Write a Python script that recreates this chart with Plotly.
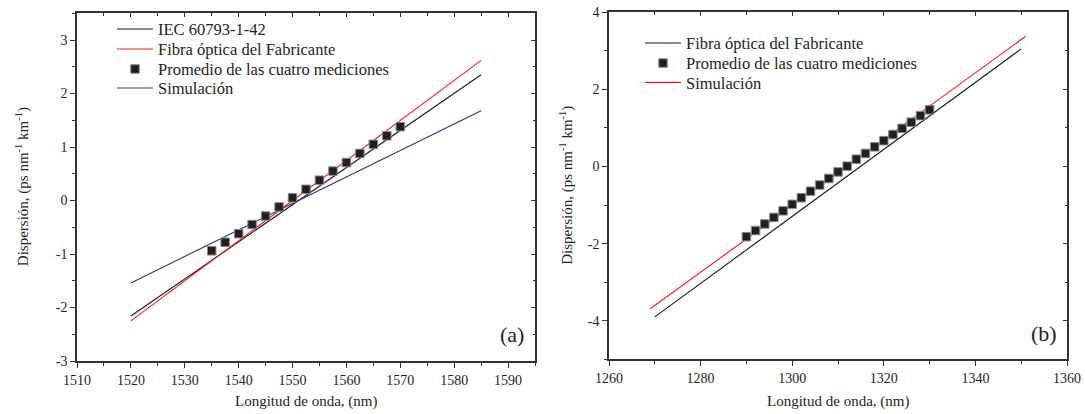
import plotly.graph_objects as go

W, H = 1085, 414
FONT = "Liberation Serif, Times New Roman, Tinos, DejaVu Serif"
TXT = "#231f20"

# ---------------- data: panel (a) ----------------
a_iec_x = [1520, 1585]
a_iec_y = [-2.16, 2.35]
a_fab_x = [1520, 1585]
a_fab_y = [-2.25, 2.62]
a_sim_x = [1520, 1585]
a_sim_y = [-1.54, 1.68]
a_meas_x = [1535, 1537.5, 1540, 1542.5, 1545, 1547.5, 1550, 1552.5, 1555,
            1557.5, 1560, 1562.5, 1565, 1567.5, 1570]
a_meas_y = [-0.94, -0.78, -0.62, -0.45, -0.29, -0.12, 0.05, 0.21, 0.38,
            0.55, 0.71, 0.88, 1.05, 1.21, 1.38]
a_xticks = [1510, 1520, 1530, 1540, 1550, 1560, 1570, 1580, 1590]
a_yticks = [-3, -2, -1, 0, 1, 2, 3]

# ---------------- data: panel (b) ----------------
b_fab_x = [1270, 1350]
b_fab_y = [-3.90, 3.05]
b_sim_x = [1269, 1351]
b_sim_y = [-3.69, 3.38]
b_meas_x = [1290, 1292, 1294, 1296, 1298, 1300, 1302, 1304, 1306, 1308, 1310,
            1312, 1314, 1316, 1318, 1320, 1322, 1324, 1326, 1328, 1330]
b_meas_y = [-1.82, -1.66, -1.49, -1.32, -1.15, -0.98, -0.81, -0.64, -0.48,
            -0.31, -0.14, 0.01, 0.19, 0.34, 0.51, 0.67, 0.83, 0.99, 1.15,
            1.32, 1.47]
b_xticks = [1260, 1280, 1300, 1320, 1340, 1360]
b_yticks = [-4, -2, 0, 2, 4]

names_a = ["IEC 60793-1-42", "Fibra óptica del Fabricante",
           "Promedio de las cuatro mediciones", "Simulación"]
names_b = ["Fibra óptica del Fabricante", "Promedio de las cuatro mediciones",
           "Simulación"]

BLACK = "#1a1a1a"
RED = "#ee1c25"
BLUE = "#2e3192"
MK = dict(symbol="square", size=8.5, color="#231f20", line=dict(color="#8a8a8a", width=1))


def lab(v):
    return str(v)


fig = go.Figure()

fig.add_trace(go.Scatter(x=a_iec_x, y=a_iec_y, mode="lines", name=names_a[0],
                         line=dict(color=BLACK, width=1.1), xaxis="x", yaxis="y", legend="legend"))
fig.add_trace(go.Scatter(x=a_fab_x, y=a_fab_y, mode="lines", name=names_a[1],
                         line=dict(color=RED, width=1.1), xaxis="x", yaxis="y", legend="legend2"))
fig.add_trace(go.Scatter(x=a_sim_x, y=a_sim_y, mode="lines", name=names_a[3],
                         line=dict(color=BLUE, width=1.1), xaxis="x", yaxis="y", legend="legend4"))
fig.add_trace(go.Scatter(x=a_meas_x, y=a_meas_y, mode="markers", name=names_a[2],
                         marker=MK, xaxis="x", yaxis="y", legend="legend3"))
fig.add_trace(go.Scatter(x=b_fab_x, y=b_fab_y, mode="lines", name=names_b[0],
                         line=dict(color=BLACK, width=1.1), xaxis="x2", yaxis="y2", legend="legend5"))
fig.add_trace(go.Scatter(x=b_sim_x, y=b_sim_y, mode="lines", name=names_b[2],
                         line=dict(color=RED, width=1.1), xaxis="x2", yaxis="y2", legend="legend7"))
fig.add_trace(go.Scatter(x=b_meas_x, y=b_meas_y, mode="markers", name=names_b[1],
                         marker=MK, xaxis="x2", yaxis="y2", legend="legend6"))
fig.add_trace(go.Scatter(x=[], y=[], xaxis="x3", yaxis="y3", showlegend=False, hoverinfo="skip"))
fig.add_trace(go.Scatter(x=[], y=[], xaxis="x4", yaxis="y4", showlegend=False, hoverinfo="skip"))

dxa = [77 / W, 535 / W]
dya = [1 - 361 / H, 1 - 13.3 / H]
dxb = [609 / W, 1067 / W]
dyb = [1 - 359.3 / H, 1 - 12.3 / H]

AX = dict(showgrid=False, zeroline=False, showline=True, linecolor="#333333",
          linewidth=1.5, tickcolor="#333333", tickwidth=1.2,
          tickfont=dict(family=FONT, size=14, color=TXT), automargin=False)
OUT = dict(ticks="outside", ticklen=5)
INN = dict(ticks="inside", ticklen=4, showticklabels=False)

lay = dict(
    width=W, height=H, margin=dict(l=0, r=0, t=0, b=0),
    paper_bgcolor="white", plot_bgcolor="white",
    font=dict(family=FONT, color=TXT),
    xaxis=dict(domain=dxa, anchor="y", range=[1510, 1595], tickvals=a_xticks,
               ticktext=[lab(v) for v in a_xticks],
               minor=dict(dtick=5, tick0=1510, ticks="outside", ticklen=3, tickcolor="#333333"),
               **OUT, **AX),
    yaxis=dict(domain=dya, anchor="x", range=[-3, 3.5], tickvals=a_yticks,
               ticktext=[lab(v) for v in a_yticks],
               minor=dict(dtick=0.5, tick0=0, ticks="outside", ticklen=3, tickcolor="#333333"),
               **OUT, **AX),
    xaxis3=dict(overlaying="x", anchor="y3", side="top", range=[1510, 1595], tickvals=a_xticks,
                minor=dict(dtick=5, tick0=1510, ticks="inside", ticklen=2.5, tickcolor="#333333"),
                **INN, **AX),
    yaxis3=dict(overlaying="y", anchor="x3", side="right", range=[-3, 3.5], tickvals=a_yticks,
                minor=dict(dtick=0.5, tick0=0, ticks="inside", ticklen=2.5, tickcolor="#333333"),
                **INN, **AX),
    xaxis2=dict(domain=dxb, anchor="y2", range=[1260, 1360], tickvals=b_xticks,
                ticktext=[lab(v) for v in b_xticks],
                minor=dict(dtick=10, tick0=1260, ticks="outside", ticklen=3, tickcolor="#333333"),
                **OUT, **AX),
    yaxis2=dict(domain=dyb, anchor="x2", range=[-5, 4], tickvals=b_yticks,
                ticktext=[lab(v) for v in b_yticks],
                minor=dict(dtick=1, tick0=0, ticks="outside", ticklen=3, tickcolor="#333333"),
                **OUT, **AX),
    xaxis4=dict(overlaying="x2", anchor="y4", side="top", range=[1260, 1360], tickvals=b_xticks,
                minor=dict(dtick=10, tick0=1260, ticks="inside", ticklen=2.5, tickcolor="#333333"),
                **INN, **AX),
    yaxis4=dict(overlaying="y2", anchor="x4", side="right", range=[-5, 4], tickvals=b_yticks,
                minor=dict(dtick=1, tick0=0, ticks="inside", ticklen=2.5, tickcolor="#333333"),
                **INN, **AX),
    showlegend=True,
)

LEGF = dict(family=FONT, size=16.5, color=TXT)


def leg(xpx, ypx):
    return dict(x=xpx / W, y=1 - ypx / H, xanchor="left", yanchor="middle",
                bgcolor="rgba(0,0,0,0)", borderwidth=0, font=LEGF,
                itemwidth=36, tracegroupgap=0)


LX_A, LX_B = 112, 640
lay["legend"] = leg(LX_A, 29.3)
lay["legend2"] = leg(LX_A, 49.3)
lay["legend3"] = leg(LX_A, 69.3)
lay["legend4"] = leg(LX_A, 88.3)
lay["legend5"] = leg(LX_B, 43.3)
lay["legend6"] = leg(LX_B, 63.3)
lay["legend7"] = leg(LX_B, 82.7)

YT = "Dispersión, (ps nm<sup>-1</sup> km<sup>-1</sup>)"
XT = "Longitud de onda, (nm)"
TF = dict(family=FONT, size=15, color=TXT)
ann = [
    dict(text=XT, x=(dxa[0] + dxa[1]) / 2, y=1 - 401 / H, xref="paper", yref="paper",
         showarrow=False, font=TF, xanchor="center", yanchor="middle"),
    dict(text=XT, x=(dxb[0] + dxb[1]) / 2, y=1 - 401 / H, xref="paper", yref="paper",
         showarrow=False, font=TF, xanchor="center", yanchor="middle"),
    dict(text=YT, x=22 / W, y=(dya[0] + dya[1]) / 2, xref="paper", yref="paper",
         showarrow=False, font=TF, textangle=-90, xanchor="center", yanchor="middle"),
    dict(text=YT, x=567 / W, y=(dyb[0] + dyb[1]) / 2, xref="paper", yref="paper",
         showarrow=False, font=TF, textangle=-90, xanchor="center", yanchor="middle"),
    dict(text="(a)", x=512 / W, y=1 - 334 / H, xref="paper", yref="paper",
         showarrow=False, font=dict(family=FONT, size=22, color=TXT),
         xanchor="center", yanchor="middle"),
    dict(text="(b)", x=1044 / W, y=1 - 333 / H, xref="paper", yref="paper",
         showarrow=False, font=dict(family=FONT, size=22, color=TXT),
         xanchor="center", yanchor="middle"),
]
lay["annotations"] = ann

fig.update_layout(**lay)
fig.write_html("out.html")
